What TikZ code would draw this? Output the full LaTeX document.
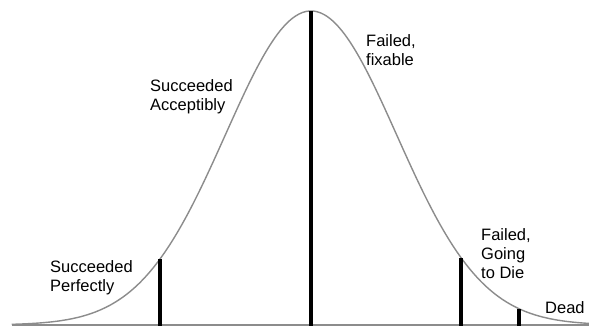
\documentclass[tikz,border=0pt]{standalone}
\usepackage{fontspec}
\setmainfont{Liberation Sans}
\begin{document}
\begin{tikzpicture}[x=1pt,y=-1pt,
  lbl/.style={anchor=north west,inner sep=0pt,align=left,font=\fontsize{16.5}{19}\selectfont},
  curve/.style={draw=black!45,line width=1.4pt},
  axis/.style={draw=black!45,line width=1.4pt},
  cut/.style={draw=black,line width=3.2pt}]
\useasboundingbox (0,0) rectangle (589,326);
\fill[white] (0,0) rectangle (589,326);
\draw[axis] (12,325) -- (589,325);
\draw[curve] plot[domain=-3.5:3.26,samples=160,smooth] ({311+85.5*\x},{325-314*exp(-\x*\x/2)});
\foreach \xx/\nm in {160/a,311/b,461/c,519/d}{
  \coordinate (top\nm) at (\xx,{325-314*exp(-((\xx-311)/85.5)*((\xx-311)/85.5)/2)});
  \coordinate (bot\nm) at (\xx,326);
  \draw[cut] (bot\nm) -- (top\nm);
}
\node[lbl] (sp) at (50,260) {Succeeded\\Perfectly};
\node[lbl] (sa) at (150,79) {Succeeded\\Acceptibly};
\node[lbl] (ff) at (366,34) {Failed,\\fixable};
\node[lbl] (fg) at (481,228) {Failed,\\Going\\to Die};
\node[lbl] (dd) at (545,301) {Dead};
\end{tikzpicture}
\end{document}
